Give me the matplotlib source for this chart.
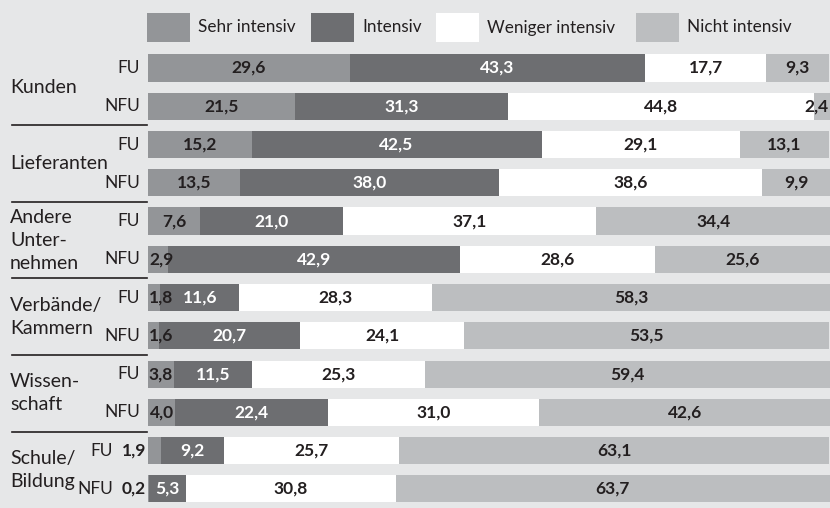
import matplotlib.pyplot as plt
import numpy as np
from matplotlib.patches import Rectangle

plt.rcParams['font.family'] = ['Lato', 'DejaVu Sans']

categories = ['Kunden', 'Lieferanten', 'Andere\nUnter-\nnehmen', 'Verbände/\nKammern',
              'Wissen-\nschaft', 'Schule/\nBildung']
groups = ['FU', 'NFU']
series = ['Sehr intensiv', 'Intensiv', 'Weniger intensiv', 'Nicht intensiv']

sehr_intensiv = [29.6, 21.5, 15.2, 13.5, 7.6, 2.9, 1.8, 1.6, 3.8, 4.0, 1.9, 0.2]
intensiv = [43.3, 31.3, 42.5, 38.0, 21.0, 42.9, 11.6, 20.7, 11.5, 22.4, 9.2, 5.3]
weniger_intensiv = [17.7, 44.8, 29.1, 38.6, 37.1, 28.6, 28.3, 24.1, 25.3, 31.0, 25.7, 30.8]
nicht_intensiv = [9.3, 2.4, 13.1, 9.9, 34.4, 25.6, 58.3, 53.5, 59.4, 42.6, 63.1, 63.7]

colors = ['#939598', '#6d6e71', '#ffffff', '#bcbec0']
text_colors = ['#231f20', '#ffffff', '#231f20', '#231f20']
bg = '#e6e7e8'
dark = '#231f20'

W, H = 830, 508
fig = plt.figure(figsize=(W / 100, H / 100), dpi=100, facecolor=bg)

step = 38.27
top = 68 - step / 2
ax = fig.add_axes([148 / W, 0, 1 - 148 / W, (H - top) / H])
ax.set_facecolor(bg)
ax.set_xlim(0, 100)
ax.set_ylim(11.5, -0.5)
ax.axis('off')

data = np.array([sehr_intensiv, intensiv, weniger_intensiv, nicht_intensiv])
ys = np.arange(data.shape[1])
left = np.zeros(data.shape[1])
vfs = 12.5
for k in range(4):
    vals = data[k]
    ax.barh(ys, vals, left=left, height=0.71, color=colors[k], linewidth=0)
    for i, v in enumerate(vals):
        label = f'{v:.1f}'.replace('.', ',')
        if i >= 10 and k == 0:
            # tiny values for Schule/Bildung sit left of the bar
            ax.text(-0.3, i, label, ha='right', va='center', fontsize=vfs,
                    fontweight='bold', color=dark, clip_on=False)
        elif v < 3 and k == 0:
            ax.text(left[i] + 0.15, i, label, ha='left', va='center', fontsize=vfs,
                    fontweight='bold', color=text_colors[k])
        elif v < 3 and k == 3:
            ax.text(99.8, i, label, ha='right', va='center', fontsize=vfs,
                    fontweight='bold', color=text_colors[k])
        else:
            ax.text(left[i] + v / 2, i, label, ha='center', va='center', fontsize=vfs,
                    fontweight='bold', color=text_colors[k])
    left += vals

# row labels, category labels and separators
for i in ys:
    xr = 113 if i >= 10 else 140
    fig.text(xr / W, 1 - (68 + i * step) / H, groups[i % 2], ha='right', va='center',
             fontsize=12.5, color=dark)
for j, cat in enumerate(categories):
    yc = 68 + (2 * j + 0.5) * step
    fig.text(10 / W, 1 - yc / H, cat, ha='left', va='center', fontsize=14,
             color=dark, linespacing=1.42)
    if j > 0:
        ysep = 1 - (68 + (2 * j - 0.5) * step) / H
        fig.add_artist(plt.Line2D([12 / W, 147 / W], [ysep, ysep], color=dark, lw=1.2))

# legend
leg_x = [147, 311, 436, 636]
for k in range(4):
    fig.add_artist(Rectangle((leg_x[k] / W, 1 - 42 / H), 43 / W, 29 / H,
                             transform=fig.transFigure, facecolor=colors[k], linewidth=0))
    fig.text((leg_x[k] + 51) / W, 1 - 27.5 / H, series[k], ha='left', va='center',
             fontsize=12.3, color=dark)

fig.savefig('out.png', dpi=100, facecolor=bg)
